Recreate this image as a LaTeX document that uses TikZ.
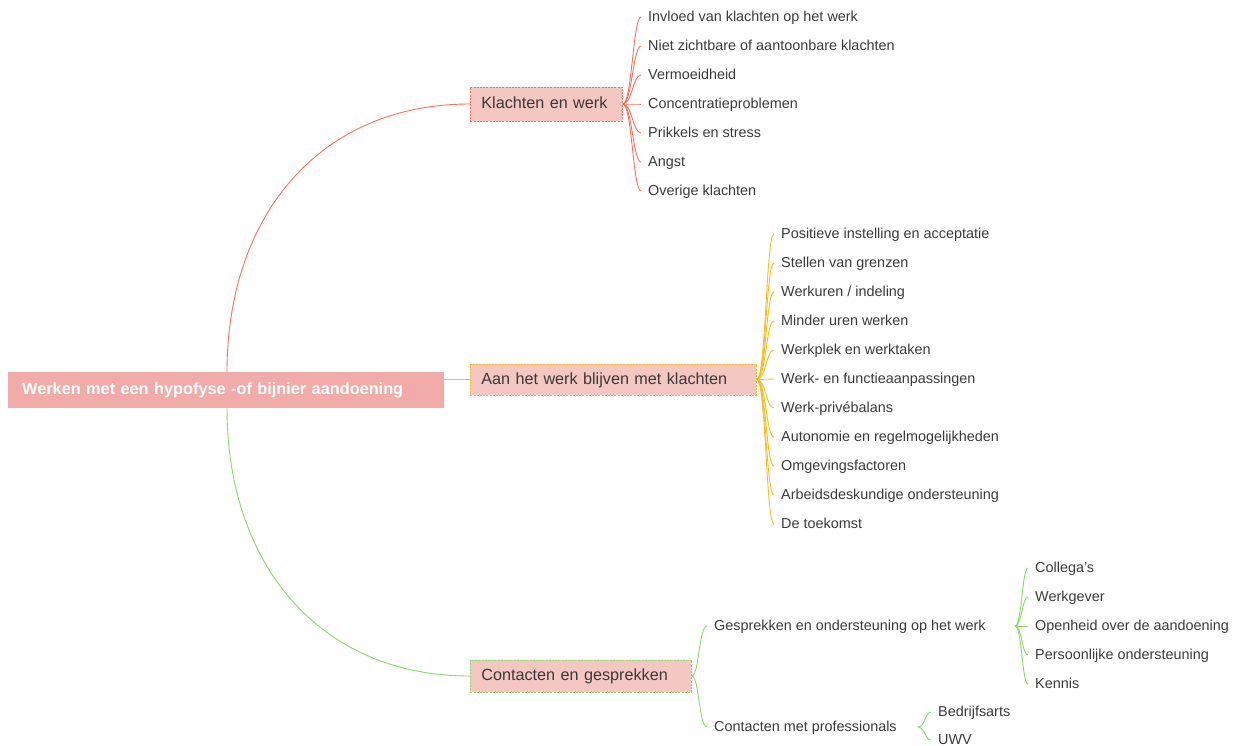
\documentclass[tikz,border=0pt]{standalone}
\usepackage{fontspec}
\setmainfont{Liberation Sans}
\definecolor{rootfill}{HTML}{F1ABA9}
\definecolor{mainfill}{HTML}{F4C7C2}
\definecolor{cred}{HTML}{F7725E}
\definecolor{corange}{HTML}{FBBC1E}
\definecolor{cgreen}{HTML}{8BD867}
\definecolor{ctext}{HTML}{3A3A3A}
\tikzset{
  rootbox/.style={fill=rootfill, text=white, font=\bfseries\fontsize{16.3}{19}\selectfont,
    anchor=west, inner xsep=14pt, inner ysep=0pt, minimum height=36pt, align=left},
  mainbox/.style={fill=mainfill, dashed, dash pattern=on 2pt off 1.2pt, line width=0.8pt, text=ctext,
    font=\fontsize{16.2}{19}\selectfont, anchor=west, inner xsep=11pt, inner ysep=0pt, align=left,
    text height=13pt, text depth=3.5pt},
  leaf/.style={text=ctext, font=\fontsize{14.4}{17}\selectfont, anchor=west, inner xsep=7pt, inner ysep=2pt,
    text height=12.6pt, text depth=3pt},
  link/.style={line width=0.9pt},
}
\begin{document}
\begin{tikzpicture}[x=1pt,y=-1pt]
\useasboundingbox (0,0) rectangle (1238,745);
% root
\node[rootbox, text width=408pt] (root) at (8,390) {Werken met een hypofyse -of bijnier aandoening};
% main boxes
\node[mainbox, draw=cred, text width=130pt, minimum height=34pt] (k) at (470,104) {Klachten en werk};
\node[mainbox, draw=corange, text width=264pt, minimum height=31pt] (a) at (470,379.5) {Aan het werk blijven met klachten};
\node[mainbox, draw=cgreen, text width=199pt, minimum height=32pt] (c) at (470,676) {Contacten en gesprekken};
\coordinate (rtop) at (227,372);
\coordinate (rbot) at (227,408);
\coordinate (rr) at (444,379.5);
\draw[link,cred] (rtop) .. controls (227,215) and (320,104) .. (k.west);
\draw[link,cgreen] (rbot) .. controls (227,565) and (320,676) .. (c.west);
\draw[link,corange] (rr) -- (a.west);
% Klachten children
\foreach \t [count=\i] in {Invloed van klachten op het werk,Niet zichtbare of aantoonbare klachten,Vermoeidheid,Concentratieproblemen,Prikkels en stress,Angst,Overige klachten}{
  \node[leaf] (k\i) at (641,{17+29*(\i-1)}) {\t};
  \draw[link,cred] (k.east) .. controls (632,104) and (633,{17+29*(\i-1)}) .. (k\i.west);
}
% Aan children
\foreach \t [count=\i] in {Positieve instelling en acceptatie,Stellen van grenzen,Werkuren / indeling,Minder uren werken,Werkplek en werktaken,Werk- en functieaanpassingen,Werk-privébalans,Autonomie en regelmogelijkheden,Omgevingsfactoren,Arbeidsdeskundige ondersteuning,De toekomst}{
  \node[leaf] (a\i) at (774,{234+29*(\i-1)}) {\t};
  \draw[link,corange] (a.east) .. controls (766,379.5) and (766,{234+29*(\i-1)}) .. (a\i.west);
}
% Contacten children
\node[leaf] (g) at (707,626) {Gesprekken en ondersteuning op het werk};
\node[leaf] (p) at (707,727) {Contacten met professionals};
\draw[link,cgreen] (c.east) .. controls (699,676) and (699,626) .. (g.west);
\draw[link,cgreen] (c.east) .. controls (699,676) and (699,727) .. (p.west);
\coordinate (gend) at (1015,626);
\coordinate (pend) at (918,727);
\foreach \t [count=\i] in {Collega's,Werkgever,Openheid over de aandoening,Persoonlijke ondersteuning,Kennis}{
  \node[leaf] (g\i) at (1028,{568+29*(\i-1)}) {\t};
  \draw[link,cgreen] (gend) .. controls (1022,626) and (1022,{568+29*(\i-1)}) .. (g\i.west);
}
\node[leaf] (p1) at (931,712) {Bedrijfsarts};
\node[leaf] (p2) at (931,740) {UWV};
\draw[link,cgreen] (pend) .. controls (925,727) and (925,712) .. (p1.west);
\draw[link,cgreen] (pend) .. controls (925,727) and (925,740) .. (p2.west);
\end{tikzpicture}
\end{document}
